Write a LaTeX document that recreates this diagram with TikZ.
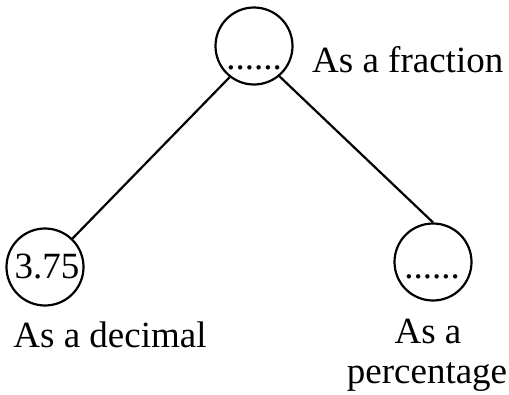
\documentclass[tikz,border=0pt]{standalone}
\usepackage{fontspec}
\setmainfont{Liberation Serif}
\begin{document}
\begin{tikzpicture}[x=1pt,y=-1pt,
  ring/.style={circle,draw,line width=2.2pt,minimum size=77pt,inner sep=0pt},
  txt/.style={anchor=base,inner sep=0pt,font=\fontsize{37}{41}\selectfont},
  link/.style={line width=2.2pt}]
\useasboundingbox (0,0) rectangle (509,394);
\node[ring] (top) at (254,46) {};
\node[ring] (left) at (45,267) {};
\node[ring] (right) at (433,262) {};
\node[txt] (topdots) at (254,69) {......};
\node[txt] (lval) at (47,278) {3.75};
\node[txt] (rdots) at (432,278) {......};
\node[txt,anchor=base west] (frac) at (312,72) {As a fraction};
\node[txt] (dec) at (110,347) {As a decimal};
\node[txt] (pct1) at (428,343) {As a};
\node[txt] (pct2) at (427,383) {percentage};
\draw[link] (top.232) -- (left.46);
\draw[link] (top.310) -- (right.90);
\end{tikzpicture}
\end{document}
